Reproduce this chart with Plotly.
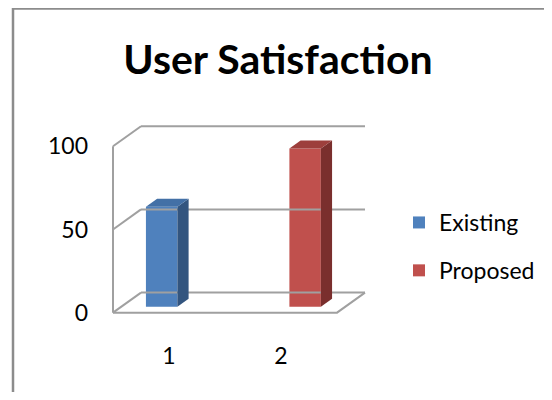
import plotly.graph_objects as go

# ---- data ----
categories = ["1", "2"]
series_names = ["Existing", "Proposed"]
existing = [60, None]
proposed = [None, 95]
y_ticks = [0, 50, 100]

# ---- style ----
front_colors = ["#4F81BD", "#C0504D"]
side_colors = ["#33557F", "#7A2F2D"]
top_colors = ["#4370A6", "#9D3F3C"]
grid_color = "#A0A0A0"
FONT = "Lato"

# 3D projection (in data units)
DDX = 0.25      # depth shift along x (category units)
DDY = 12.05     # depth shift along y (value units)
F0, FD = 0.30, 0.40   # bar front plane depth and bar depth (fractions)
BAR_W = 0.281
x_left, x_right = 0.5, len(categories) + 0.5

# layout geometry (page offset of 8px from body margin)
OFF = 8
W, H = 552 - 2 * OFF, 400 - 2 * OFF
ML, PW = 111 - OFF, 256
MT, PH = 123 - OFF, 193
xr0 = x_left - 2 / 112
xr1 = xr0 + PW / 112
yr = [-2, 114]

fig = go.Figure()

def line(xs, ys):
    fig.add_trace(go.Scatter(x=xs, y=ys, mode="lines", showlegend=False,
                             hoverinfo="skip",
                             line=dict(color=grid_color, width=2)))

# back wall gridlines
for v in y_ticks:
    line([x_left + DDX, x_right + DDX], [v + DDY, v + DDY])
# side wall diagonals
for v in y_ticks:
    line([x_left, x_left + DDX], [v, v + DDY])
# front vertical axis line
line([x_left, x_left], [y_ticks[0], y_ticks[-1]])
# floor front and right edges
line([x_left, x_right, x_right + DDX], [0, 0, DDY])

# bars
all_vals = [existing, proposed]
offsets = [-BAR_W, 0.0]
xs_num = [i + 1 for i in range(len(categories))]
for s, (name, vals) in enumerate(zip(series_names, all_vals)):
    off = offsets[s] + F0 * DDX
    base = F0 * DDY
    fig.add_trace(go.Bar(
        name=name, x=xs_num, y=vals, base=base, offset=off, width=BAR_W,
        marker=dict(color=front_colors[s], line=dict(width=0)),
        legendgroup=name,
    ))
    for c, v in zip(xs_num, vals):
        if v is None:
            continue
        xl = c + off
        xr = xl + BAR_W
        b = base
        t = base + v
        dx, dy = FD * DDX, FD * DDY
        # side face
        fig.add_trace(go.Scatter(
            x=[xr, xr + dx, xr + dx, xr, xr], y=[b, b + dy, t + dy, t, b],
            mode="lines", fill="toself", fillcolor=side_colors[s],
            line=dict(width=0, color=side_colors[s]), showlegend=False,
            hoverinfo="skip"))
        # top face
        fig.add_trace(go.Scatter(
            x=[xl, xr, xr + dx, xl + dx, xl], y=[t, t, t + dy, t + dy, t],
            mode="lines", fill="toself", fillcolor=top_colors[s],
            line=dict(width=0, color=top_colors[s]), showlegend=False,
            hoverinfo="skip"))

# outer border
bx0 = (13 - OFF - ML) / PW
bx1 = (W + 30 - ML) / PW
by1 = 1 + (MT - (8.5 - OFF)) / PH
by0 = -(H + 30 - (MT + PH)) / PH

fig.update_layout(
    width=W, height=H,
    margin=dict(l=ML, r=W - ML - PW, t=MT, b=H - MT - PH, autoexpand=False),
    paper_bgcolor="white", plot_bgcolor="white",
    barmode="overlay",
    font=dict(family=FONT, size=23, color="black"),
    title=dict(text="<b>User Satisfaction</b>", x=(278 - OFF) / W,
               xanchor="center", xref="container", yref="container",
               y=1 - (60 - OFF) / H, yanchor="middle",
               font=dict(family=FONT, size=41, color="black")),
    xaxis=dict(range=[xr0, xr1], tickvals=xs_num, ticktext=categories,
               showgrid=False, zeroline=False, showline=False, ticks="",
               ticklabelstandoff=24, fixedrange=True),
    yaxis=dict(range=yr, tickvals=y_ticks, showgrid=False, zeroline=False,
               showline=False, ticks="", ticklabelstandoff=22, fixedrange=True),
    legend=dict(x=(399 - OFF - ML) / PW, xanchor="left",
                y=1 - (201 - OFF - MT) / PH,
                yanchor="top", traceorder="grouped", tracegroupgap=15,
                font=dict(family=FONT, size=23), bgcolor="rgba(0,0,0,0)"),
    shapes=[dict(type="rect", xref="paper", yref="paper", x0=bx0, x1=bx1,
                 y0=by0, y1=by1, line=dict(color="#8C8C8C", width=2.5),
                 layer="below")],
)

fig.write_html("out.html")
